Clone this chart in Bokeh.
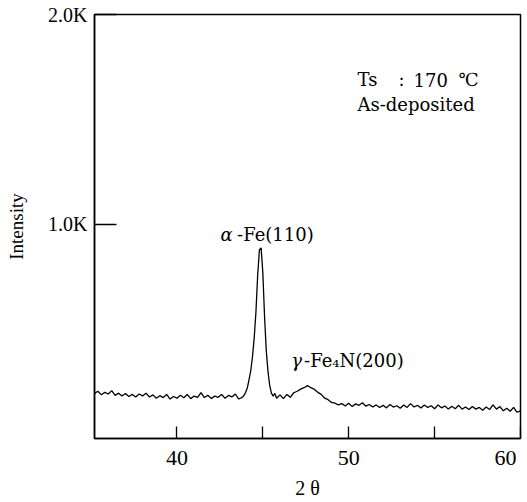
from bokeh.plotting import figure
from bokeh.models import FixedTicker, Label
from bokeh.embed import file_html
from bokeh.resources import INLINE

# X-ray diffraction scan (2θ in degrees, intensity in counts)
two_theta = [
    35.2, 35.4, 35.6, 35.8, 36.0, 36.2, 36.4, 36.6, 36.8, 37.0,
    37.2, 37.4, 37.6, 37.8, 38.0, 38.2, 38.4, 38.6, 38.8, 39.0,
    39.2, 39.4, 39.6, 39.8, 40.0, 40.2, 40.4, 40.6, 40.8, 41.0,
    41.2, 41.4, 41.6, 41.8, 42.0, 42.2, 42.4, 42.6, 42.8, 43.0,
    43.2, 43.4, 43.6, 43.8,
    43.9, 44.0, 44.1, 44.2, 44.3, 44.4, 44.5, 44.6, 44.7, 44.8,
    44.9, 45.0, 45.1, 45.2, 45.3, 45.4, 45.5, 45.6, 45.7, 45.8,
    46.0, 46.2, 46.4, 46.6, 46.8, 47.0, 47.2, 47.4, 47.6, 47.8,
    48.0, 48.2, 48.4, 48.6, 48.8, 49.0, 49.2, 49.4, 49.6, 49.8,
    50.0, 50.2, 50.4, 50.6, 50.8, 51.0, 51.2, 51.4, 51.6, 51.8,
    52.0, 52.2, 52.4, 52.6, 52.8, 53.0, 53.2, 53.4, 53.6, 53.8,
    54.0, 54.2, 54.4, 54.6, 54.8, 55.0, 55.2, 55.4, 55.6, 55.8,
    56.0, 56.2, 56.4, 56.6, 56.8, 57.0, 57.2, 57.4, 57.6, 57.8,
    58.0, 58.2, 58.4, 58.6, 58.8, 59.0, 59.2, 59.4, 59.6, 59.8,
    60.0,
]
counts = [
    195, 205, 188, 200, 192, 208, 185, 196, 182, 194,
    180, 190, 178, 192, 183, 196, 178, 188, 172, 184,
    175, 190, 168, 180, 172, 186, 174, 190, 170, 182,
    176, 198, 175, 186, 170, 182, 176, 190, 172, 185,
    178, 192, 168, 176,
    185, 200, 222, 262, 305, 372, 462, 585, 760, 878,
    888, 770, 560, 398, 300, 232, 196, 182, 195, 172,
    188, 170, 190, 176, 198, 205, 215, 222, 232, 222,
    214, 200, 190, 172, 165, 152, 148, 140, 146, 135,
    148, 132, 145, 138, 150, 134, 142, 130, 140, 128,
    138, 126, 142, 130, 136, 124, 140, 128, 146, 130,
    138, 125, 140, 128, 136, 122, 140, 126, 135, 120,
    134, 122, 138, 120, 130, 118, 132, 120, 128, 115,
    130, 118, 140, 120, 132, 112, 124, 110, 128, 105,
    112,
]

y_ticks = [1000, 2000]
y_tick_labels = ["1.0K", "2.0K"]
x_ticks = [40, 45, 50, 55, 60]
# the last label is padded with no-break spaces so that it sits inside the edge
x_tick_labels = ["40", "", "50", "", "60" + "\u00a0" * 2]

SERIF = "Liberation Serif"
WIDE_SERIF = "DejaVu Serif"

p = figure(
    width=527, height=502,
    x_range=(35.2, 60.0), y_range=(-20, 2000),
    output_backend="svg", toolbar_location=None,
    min_border_left=94, min_border_right=7,
    min_border_top=14, min_border_bottom=64,
    background_fill_color="white", border_fill_color="white",
)
p.grid.visible = False
p.outline_line_color = "black"
p.outline_line_width = 1.5

p.line(two_theta, counts, line_color="black", line_width=1.3)

# axes: ticks point into the frame
p.yaxis.ticker = FixedTicker(ticks=y_ticks)
p.yaxis.major_label_overrides = dict(zip(y_ticks, y_tick_labels))
p.xaxis.ticker = FixedTicker(ticks=x_ticks)
p.xaxis.major_label_overrides = dict(zip(x_ticks, x_tick_labels))
for ax in (p.xaxis, p.yaxis):
    ax.axis_line_color = "black"
    ax.axis_line_width = 1.5
    ax.major_tick_line_color = "black"
    ax.major_tick_line_width = 1.3
    ax.major_tick_out = 0
    ax.minor_tick_line_color = None
    ax.major_label_text_font = SERIF
    ax.major_label_text_color = "black"
    ax.axis_label_text_font = SERIF
    ax.axis_label_text_font_style = "normal"
    ax.axis_label_text_color = "black"
p.yaxis.major_tick_in = 22
p.yaxis.major_label_text_font_size = "20px"
p.yaxis.major_label_standoff = 7
p.yaxis.axis_label = "Intensity"
p.yaxis.axis_label_text_font_size = "19px"
p.yaxis.axis_label_standoff = 18
p.xaxis.major_tick_in = 12
p.xaxis.major_label_text_font_size = "22px"
p.xaxis.major_label_standoff = 6
p.xaxis.axis_label = "2 θ"
p.xaxis.axis_label_text_font_size = "20px"
p.xaxis.axis_label_standoff = 4


def add_label(x, y, text, font=WIDE_SERIF, size="18px", style="normal",
              align="left", baseline="middle"):
    p.add_layout(Label(
        x=x, y=y, text=text, text_font=font, text_font_size=size,
        text_font_style=style, text_color="black", text_align=align,
        text_baseline=baseline,
    ))


# peak annotations
add_label(42.54, 952, "α", style="italic")
add_label(43.50, 952, "-Fe(110)")
add_label(46.65, 352, "γ", style="italic")
add_label(47.40, 352, "-Fe₄N(200)")

# sample conditions
add_label(50.51, 1690, "Ts")
add_label(52.90, 1690, ":")
add_label(53.77, 1690, "170")
add_label(56.39, 1690, "℃")
add_label(50.51, 1571, "As-deposited")

open("out.html", "w").write(file_html(p, INLINE))
